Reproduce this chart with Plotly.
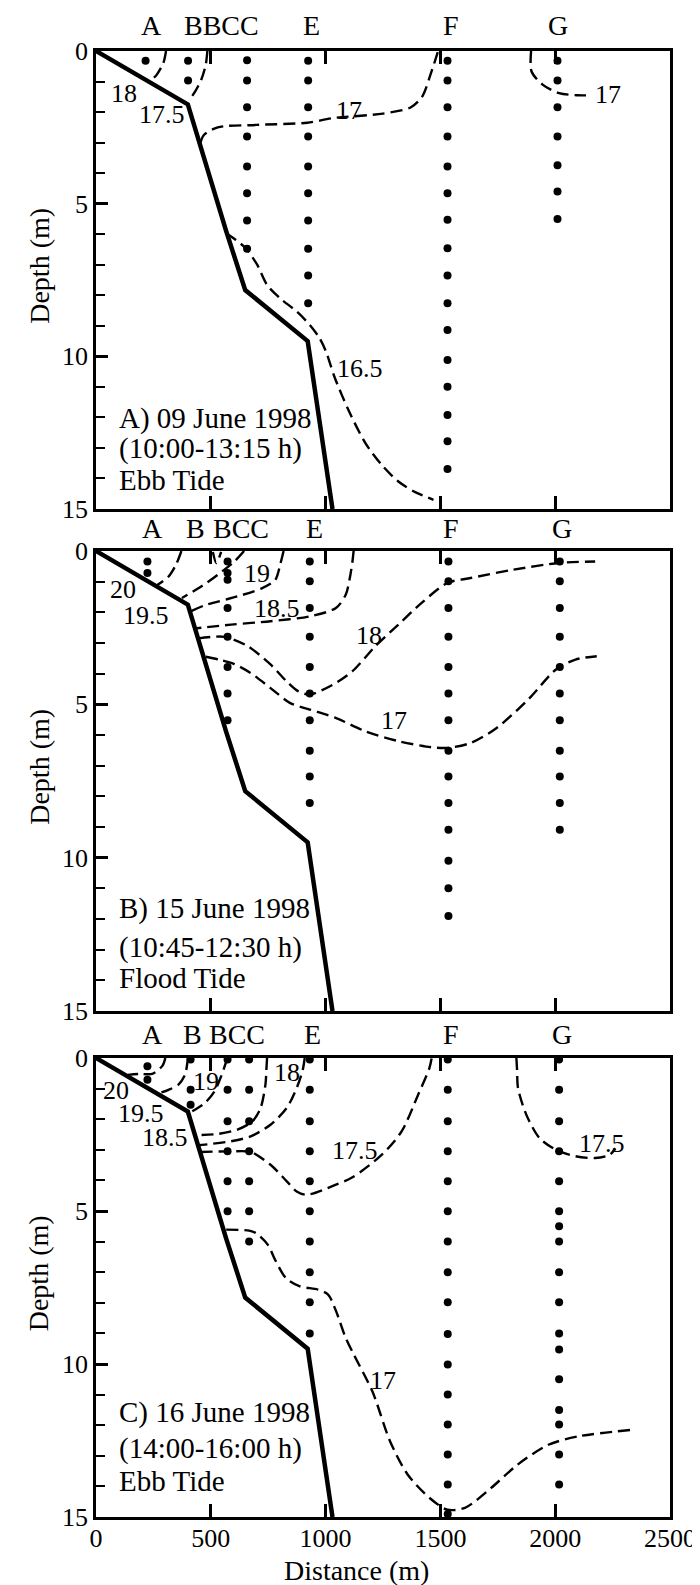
import plotly.graph_objects as go

FONT = "Liberation Serif"

# ---------------- shared data ----------------
BATHY_DIST = [0, 400, 567, 650, 922, 1030]
BATHY_DEPTH = [0, 1.75, 5.9, 7.83, 9.5, 15]
X_TICKS = [0, 500, 1000, 1500, 2000, 2500]
Y_TICKS = [0, 5, 10, 15]

# ---------------- panel A : 09 June 1998 ----------------
A_STATION_DIST = [216, 401, 658, 924, 1531, 2010]
A_STATION_DEPTHS = [
    [0.32],
    [0.32, 0.97],
    [0.3, 0.97, 1.84, 2.8, 3.78, 4.66, 5.55, 6.48],
    [0.32, 0.97, 1.84, 2.8, 3.78, 4.66, 5.55, 6.48, 7.35, 8.26],
    [0.32, 0.97, 1.84, 2.8, 3.78, 4.66, 5.53, 6.46, 7.35, 8.26, 9.14, 10.12, 11.0, 11.92, 12.78, 13.69],
    [0.32, 0.97, 1.84, 2.8, 3.74, 4.6, 5.5],
]
A_LETTERS = ["A", "BBCC", "E", "F", "G"]
A_LETTER_X = [242, 545, 937, 1545, 2012]

A_C18_X = [305, 293, 262, 232]
A_C18_Y = [0, 0.4, 0.8, 1.0]
A_C175_X = [485, 478, 458, 430, 405]
A_C175_Y = [0, 0.45, 0.95, 1.35, 1.62]
A_C17A_X = [455, 470, 530, 700, 920, 1030, 1250, 1370, 1420, 1460, 1490]
A_C17A_Y = [3.0, 2.75, 2.5, 2.42, 2.35, 2.2, 2.05, 1.85, 1.5, 0.7, 0]
A_C17B_X = [1895, 1897, 1945, 2017, 2095, 2158]
A_C17B_Y = [0, 0.67, 1.1, 1.38, 1.45, 1.45]
A_C165_X = [567, 609, 652, 702, 745, 802, 874, 931, 974, 1002, 1040, 1102, 1174, 1245, 1317, 1388, 1470]
A_C165_Y = [5.97, 6.19, 6.46, 7.0, 7.66, 8.1, 8.53, 8.97, 9.41, 9.85, 10.7, 11.8, 12.85, 13.56, 14.1, 14.44, 14.7]

A_ISO_TEXT = ["18", "17.5", "17", "17", "16.5"]
A_ISO_X = [123, 288, 1100, 2231, 1150]
A_ISO_Y = [1.38, 2.09, 1.95, 1.43, 10.4]
A_CAPTION = ["A) 09 June 1998", "(10:00-13:15 h)", "Ebb Tide"]
A_CAPTION_Y = [12.03, 13.02, 14.05]

# ---------------- panel B : 15 June 1998 ----------------
B_STATION_DIST = [224, 573, 931, 1535, 2020]
B_STATION_DEPTHS = [
    [0.34, 0.72],
    [0.34, 0.72, 0.94, 1.86, 2.8, 3.78, 4.65, 5.52],
    [0.34, 0.99, 1.86, 2.8, 3.78, 4.65, 5.52, 6.51, 7.35, 8.22],
    [0.34, 0.99, 1.86, 2.8, 3.78, 4.65, 5.52, 6.51, 7.35, 8.22, 9.09, 10.1, 11.0, 11.9],
    [0.34, 0.99, 1.86, 2.8, 3.78, 4.65, 5.52, 6.51, 7.35, 8.22, 9.09],
]
B_LETTERS = ["A", "B", "BCC", "E", "F", "G"]
B_LETTER_X = [246, 434, 631, 950, 1545, 2029]

B_C20_X = [372, 350, 316, 265]
B_C20_Y = [0, 0.42, 0.83, 1.12]
B_C195_X = [645, 603, 531, 460, 374]
B_C195_Y = [0, 0.34, 0.77, 1.15, 1.53]
B_C195V_X = [509, 524, 545]
B_C195V_Y = [0.03, 0.39, 0.03]
B_C19_X = [817, 802, 781, 724, 616, 474, 417]
B_C19_Y = [0, 0.45, 0.94, 1.21, 1.48, 1.77, 1.95]
B_C185_X = [1122, 1117, 1105, 1088, 1045, 931, 760, 588, 440]
B_C185_Y = [0, 0.34, 0.9, 1.42, 1.86, 2.13, 2.29, 2.4, 2.52]
B_C18_X = [445, 560, 660, 760, 830, 880, 930, 1031, 1117, 1216, 1317, 1417, 1531, 1632, 1817, 2017, 2174]
B_C18_Y = [2.85, 2.8, 3.1, 3.7, 4.25, 4.57, 4.68, 4.36, 3.92, 3.11, 2.4, 1.7, 1.04, 0.88, 0.61, 0.39, 0.34]
B_C17_X = [478, 540, 600, 674, 760, 846, 931, 1046, 1174, 1317, 1460, 1531, 1632, 1745, 1888, 2002, 2088, 2181]
B_C17_Y = [3.45, 3.55, 3.68, 3.98, 4.47, 4.96, 5.17, 5.45, 5.88, 6.2, 6.4, 6.42, 6.26, 5.77, 4.8, 3.87, 3.54, 3.43]

B_ISO_TEXT = ["20", "19.5", "19", "18.5", "18", "17"]
B_ISO_X = [116, 216, 702, 788, 1188, 1299]
B_ISO_Y = [1.26, 2.1, 0.72, 1.89, 2.74, 5.54]
B_CAPTION = ["B) 15 June 1998", "(10:45-12:30 h)", "Flood Tide"]
B_CAPTION_Y = [11.67, 12.94, 13.92]

# ---------------- panel C : 16 June 1998 ----------------
C_STATION_DIST = [224, 412, 573, 667, 931, 1532, 2017]
C_STATION_DEPTHS = [
    [0.27, 0.71],
    [0.05, 1.04, 1.53],
    [0.05, 1.04, 2.07, 3.05, 4.03, 5.01],
    [0.05, 1.04, 2.07, 3.05, 4.03, 5.01, 6.0],
    [0.05, 1.04, 2.07, 3.05, 4.03, 5.01, 6.0, 7.0, 7.98, 9.0],
    [0.05, 1.04, 2.07, 3.05, 4.03, 5.01, 6.0, 7.0, 7.98, 9.02, 10.02, 11.0, 11.98, 12.96, 13.94, 14.9],
    [0.05, 1.04, 2.07, 3.05, 4.03, 5.01, 5.5, 6.0, 7.0, 7.98, 9.0, 9.53, 10.5, 11.5, 11.98, 12.96, 13.94],
]
C_LETTERS = ["A", "B", "BCC", "E", "F", "G"]
C_LETTER_X = [246, 422, 615, 945, 1545, 2029]

C_C20_X = [302, 290, 245, 190, 138]
C_C20_Y = [0, 0.25, 0.52, 0.52, 0.55]
C_C195_X = [400, 398, 388, 359, 316, 275]
C_C195_Y = [0, 0.15, 0.54, 0.87, 1.04, 1.15]
C_C19_X = [570, 567, 545, 516, 474, 410]
C_C19_Y = [0, 0.11, 0.6, 1.09, 1.47, 1.78]
C_C185_X = [745, 742, 738, 717, 681, 616, 531, 440]
C_C185_Y = [0, 0.4, 0.87, 1.63, 2.07, 2.34, 2.48, 2.52]
C_C18_X = [909, 900, 874, 831, 760, 674, 588, 474, 445]
C_C18_Y = [0, 0.4, 0.98, 1.63, 2.18, 2.56, 2.72, 2.83, 2.85]
C_C175A_X = [455, 588, 674, 760, 831, 874, 917, 1045, 1117, 1245, 1331, 1403, 1452, 1462]
C_C175A_Y = [3.07, 3.05, 3.07, 3.49, 4.03, 4.36, 4.47, 4.14, 3.9, 3.16, 2.4, 1.2, 0.33, 0.0]
C_C175B_X = [1831, 1834, 1838, 1874, 1931, 2003, 2088, 2174, 2238, 2262]
C_C175B_Y = [0, 0.4, 0.98, 1.85, 2.61, 3.0, 3.21, 3.27, 3.16, 2.95]
C_C17_X = [567, 667, 696, 748, 783, 827, 888, 967, 1011, 1046, 1085, 1120, 1204, 1281, 1358, 1453, 1530, 1607, 1721, 1836, 1970, 2104, 2334]
C_C17_Y = [5.61, 5.64, 5.72, 6.1, 6.64, 7.19, 7.46, 7.57, 7.73, 8.28, 9.1, 9.65, 10.9, 12.53, 13.62, 14.38, 14.76, 14.7, 14.05, 13.29, 12.64, 12.36, 12.15]

C_ISO_TEXT = ["20", "19.5", "19", "18.5", "18", "17.5", "17.5", "17"]
C_ISO_X = [86, 195, 477, 302, 831, 1127, 2205, 1252]
C_ISO_Y = [1.05, 1.8, 0.76, 2.6, 0.49, 3.02, 2.81, 10.54]
C_CAPTION = ["C) 16 June 1998", "(14:00-16:00 h)", "Ebb Tide"]
C_CAPTION_Y = [11.6, 12.75, 13.82]

CAPTION_X = 92

# ---------------- figure ----------------
W, H = 700, 1585
ML, MR, MT, MB = 88, 30, 43, 76
PH = H - MT - MB
panel_px = [(43, 501), (543, 1003), (1050, 1509)]  # top, bottom in pixels
domains = [[(H - MB - b) / PH, (H - MB - t) / PH] for t, b in panel_px]

TICK_FS, ISO_FS, CAP_FS, LET_FS, TITLE_FS = 26, 26, 29, 28, 28

panels = [
    dict(st_x=A_STATION_DIST, st_d=A_STATION_DEPTHS, letters=A_LETTERS, letter_x=A_LETTER_X,
         contours=[(A_C18_X, A_C18_Y), (A_C175_X, A_C175_Y), (A_C17A_X, A_C17A_Y),
                   (A_C17B_X, A_C17B_Y), (A_C165_X, A_C165_Y)],
         iso=(A_ISO_TEXT, A_ISO_X, A_ISO_Y), cap=(A_CAPTION, A_CAPTION_Y), lshift=8),
    dict(st_x=B_STATION_DIST, st_d=B_STATION_DEPTHS, letters=B_LETTERS, letter_x=B_LETTER_X,
         contours=[(B_C20_X, B_C20_Y), (B_C195_X, B_C195_Y), (B_C195V_X, B_C195V_Y),
                   (B_C19_X, B_C19_Y), (B_C185_X, B_C185_Y), (B_C18_X, B_C18_Y), (B_C17_X, B_C17_Y)],
         iso=(B_ISO_TEXT, B_ISO_X, B_ISO_Y), cap=(B_CAPTION, B_CAPTION_Y), lshift=5),
    dict(st_x=C_STATION_DIST, st_d=C_STATION_DEPTHS, letters=C_LETTERS, letter_x=C_LETTER_X,
         contours=[(C_C20_X, C_C20_Y), (C_C195_X, C_C195_Y), (C_C19_X, C_C19_Y),
                   (C_C185_X, C_C185_Y), (C_C18_X, C_C18_Y), (C_C175A_X, C_C175A_Y),
                   (C_C175B_X, C_C175B_Y), (C_C17_X, C_C17_Y)],
         iso=(C_ISO_TEXT, C_ISO_X, C_ISO_Y), cap=(C_CAPTION, C_CAPTION_Y), lshift=6),
]

fig = go.Figure()
annotations = []
layout = {}

for i, p in enumerate(panels):
    n = "" if i == 0 else str(i + 1)
    xa, ya = "x" + n, "y" + n
    # station sampling points
    for sx, depths in zip(p["st_x"], p["st_d"]):
        fig.add_trace(go.Scatter(x=[sx] * len(depths), y=depths, mode="markers",
                                 marker=dict(color="black", size=8), xaxis=xa, yaxis=ya,
                                 showlegend=False, hoverinfo="skip", cliponaxis=False))
    # isotherms
    for cx, cy in p["contours"]:
        fig.add_trace(go.Scatter(x=cx, y=cy, mode="lines",
                                 line=dict(color="black", width=2.4, dash="12px,6px",
                                           shape="spline", smoothing=0.8),
                                 xaxis=xa, yaxis=ya, showlegend=False, hoverinfo="skip"))
    # bottom profile
    fig.add_trace(go.Scatter(x=BATHY_DIST, y=BATHY_DEPTH, mode="lines",
                             line=dict(color="black", width=4.5),
                             xaxis=xa, yaxis=ya, showlegend=False, hoverinfo="skip"))

    layout["xaxis" + n] = dict(
        domain=[0, 1], anchor=ya, range=[0, 2500], tickvals=X_TICKS,
        ticks="inside", ticklen=13, tickwidth=2.5, tickcolor="black",
        showline=True, linewidth=2.5, linecolor="black", mirror="ticks",
        showgrid=False, zeroline=False, showticklabels=(i == 2),
        ticklabelstandoff=-4,
        tickfont=dict(family=FONT, size=TICK_FS, color="black"))
    layout["yaxis" + n] = dict(
        domain=domains[i], anchor=xa, range=[15, 0], tickvals=Y_TICKS,
        ticks="inside", ticklen=12, tickwidth=2.5, tickcolor="black",
        minor=dict(ticks="inside", ticklen=9, tickwidth=2, dtick=1, tickcolor="black", showgrid=False),
        showline=True, linewidth=2.5, linecolor="black", mirror=True,
        showgrid=False, zeroline=False,
        tickfont=dict(family=FONT, size=TICK_FS, color="black"))

    # station letters above the panel
    for txt, lx in zip(p["letters"], p["letter_x"]):
        annotations.append(dict(x=lx, y=1, xref=xa, yref=ya + " domain", text=txt,
                                showarrow=False, xanchor="center", yanchor="bottom",
                                yshift=p["lshift"],
                                font=dict(family=FONT, size=LET_FS, color="black")))
    # isotherm labels
    for txt, ix, iy in zip(*p["iso"]):
        annotations.append(dict(x=ix, y=iy, xref=xa, yref=ya, text=txt, showarrow=False,
                                xanchor="center", yanchor="middle",
                                font=dict(family=FONT, size=ISO_FS, color="black")))
    # caption
    for txt, cy in zip(*p["cap"]):
        annotations.append(dict(x=CAPTION_X, y=cy, xref=xa, yref=ya, text=txt, showarrow=False,
                                xanchor="left", yanchor="middle",
                                font=dict(family=FONT, size=CAP_FS, color="black")))
    # y title
    annotations.append(dict(x=(30 - ML) / (W - ML - MR), y=0.5, xref="paper", yref=ya + " domain",
                            text="Depth (m)", textangle=-90, showarrow=False,
                            xanchor="center", yanchor="middle", yshift=14,
                            font=dict(family=FONT, size=TITLE_FS, color="black")))

annotations.append(dict(x=(352 - ML) / (W - ML - MR), y=0, xref="x3 domain", yref="y3 domain",
                        text="Distance (m)", showarrow=False, xanchor="center", yanchor="middle",
                        yshift=-53, font=dict(family=FONT, size=TITLE_FS, color="black")))

fig.update_layout(
    width=W, height=H, margin=dict(l=ML, r=MR, t=MT, b=MB),
    paper_bgcolor="white", plot_bgcolor="white",
    font=dict(family=FONT, size=TICK_FS, color="black"),
    annotations=annotations, showlegend=False, **layout)

fig.write_html("out.html")
